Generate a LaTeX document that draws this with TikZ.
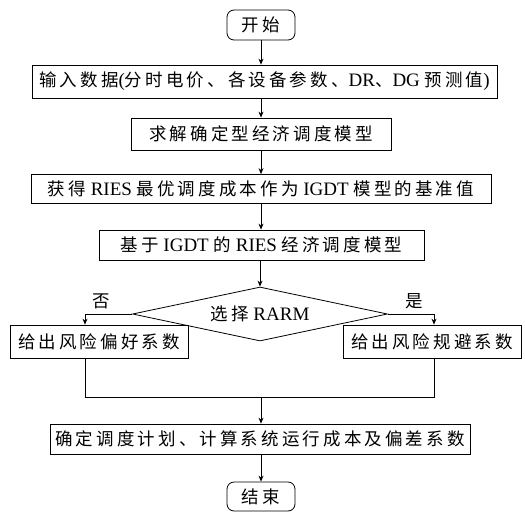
\documentclass[tikz,border=0pt]{standalone}
\usepackage{fontspec}
\setmainfont{Liberation Serif}
\newfontfamily\cjk[LetterSpace=18,Scale=0.92]{Noto Sans CJK SC}
\usetikzlibrary{shapes.geometric,arrows.meta}
\begin{document}
\begin{tikzpicture}[x=1pt,y=-1pt,line width=0.8pt,
  every node/.style={font=\fontsize{19}{22}\selectfont,inner sep=0pt},
  box/.style 2 args={draw,rectangle,minimum width=#1,minimum height=#2},
  term/.style 2 args={draw,rectangle,rounded corners=7pt,minimum width=#1,minimum height=#2},
  dec/.style 2 args={draw,diamond,aspect=4.7,minimum width=#1,minimum height=#2},
  arr/.style={-{Stealth[length=6pt,width=5pt]}},
  lbl/.style={}]
\useasboundingbox (0,0) rectangle (525,512);
\node[term={68pt}{30pt}] (start) at (261,25) {\cjk 开始};
\node[box={465pt}{33pt}] (b1) at (264.5,81.5) {{\cjk 输入数据}({\cjk 分时电价、各设备参数、}DR{\cjk 、}DG {\cjk 预测值})};
\node[box={260pt}{32pt}] (b2) at (261,134) {\cjk 求解确定型经济调度模型};
\node[box={460pt}{29pt}] (b3) at (261,189) {{\cjk 获得} RIES {\cjk 最优调度成本作为} IGDT {\cjk 模型的基准值}};
\node[box={325pt}{30pt}] (b4) at (261.5,245) {{\cjk 基于} IGDT {\cjk 的} RIES {\cjk 经济调度模型}};
\node[dec={255pt}{54pt}] (d) at (260,314) {{\cjk 选择} RARM};
\node[box={178pt}{33pt}] (b5) at (99,341.5) {\cjk 给出风险偏好系数};
\node[box={178pt}{33pt}] (b6) at (432,341.5) {\cjk 给出风险规避系数};
\node[box={420pt}{30pt}] (b7) at (260,439) {\cjk 确定调度计划、计算系统运行成本及偏差系数};
\node[term={68pt}{29pt}] (end) at (261,496.5) {\cjk 结束};
\node[lbl] (no) at (101,301) {\cjk 否};
\node[lbl] (yes) at (414,301) {\cjk 是};
\coordinate (lb) at (85,314);
\coordinate (rb) at (434,314);
\coordinate (m) at (261,397);
\draw[arr] (start.south) -- (start.south |- b1.north);
\draw[arr] (b2.north |- b1.south) -- (b2.north);
\draw[arr] (b2.south) -- (b2.south |- b3.north);
\draw[arr] (b3.south) -- (b3.south |- b4.north);
\draw[arr] (d.north |- b4.south) -- (d.north);
\draw[arr] (d.west) -- (lb) -- (lb |- b5.north);
\draw[arr] (d.east) -- (rb) -- (rb |- b6.north);
\draw (lb |- b5.south) -- (lb |- m) -- (rb |- m) -- (rb |- b6.south);
\draw[arr] (m) -- (m |- b7.north);
\draw[arr] (m |- b7.south) -- (m |- end.north);
\end{tikzpicture}
\end{document}
